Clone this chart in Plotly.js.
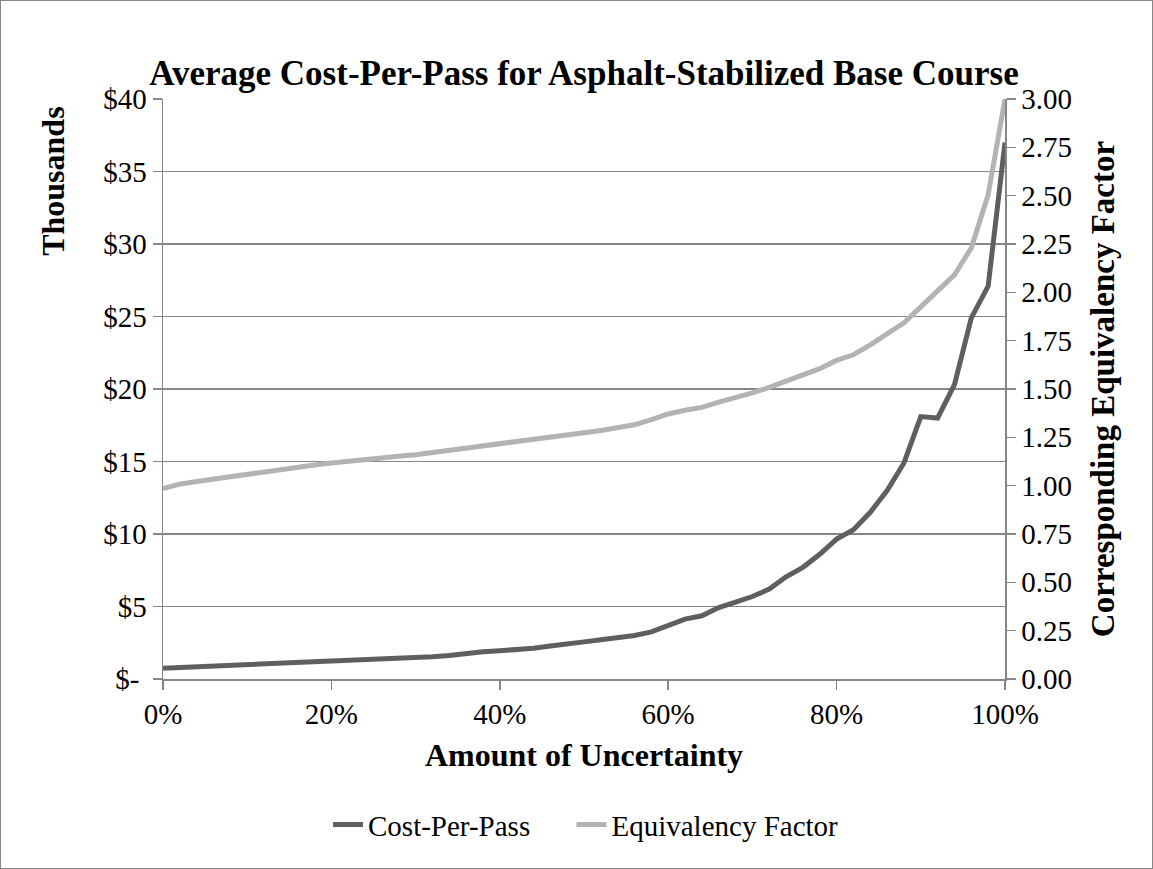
<!DOCTYPE html>
<html>
<head>
<meta charset="utf-8">
<script src="https://cdn.plot.ly/plotly-3.0.1.min.js"></script>
<style>
  html, body { margin: 0; padding: 0; background: #fff; }
  #chart { width: 1151px; height: 867px; border: 1px solid #868686; }
</style>
</head>
<body>
<div id="chart"></div>
<script>
// Amount of uncertainty (x), every 2%
const uncertainty = [0,0.02,0.04,0.06,0.08,0.10,0.12,0.14,0.16,0.18,0.20,0.22,0.24,0.26,0.28,0.30,0.32,0.34,0.36,0.38,0.40,0.42,0.44,0.46,0.48,0.50,0.52,0.54,0.56,0.58,0.60,0.62,0.64,0.66,0.68,0.70,0.72,0.74,0.76,0.78,0.80,0.82,0.84,0.86,0.88,0.90,0.92,0.94,0.96,0.98,1.00];

// Cost-Per-Pass, thousands of dollars
const costPerPass = [0.75,0.80,0.85,0.89,0.93,0.97,1.02,1.06,1.10,1.14,1.19,1.23,1.28,1.40,1.44,1.49,1.54,1.62,1.79,1.88,1.95,2.03,2.12,2.28,2.38,2.56,2.70,2.83,3.00,3.25,3.72,4.13,4.36,4.93,5.30,5.69,6.20,7.05,7.70,8.60,9.65,10.30,11.50,13.00,14.90,18.10,18.00,20.30,24.90,27.10,37.00];

// Equivalency Factor (right axis)
const equivFactor = [0.985,1.008,1.022,1.035,1.048,1.058,1.073,1.085,1.096,1.107,1.117,1.127,1.138,1.145,1.152,1.160,1.172,1.182,1.192,1.204,1.214,1.228,1.238,1.252,1.262,1.274,1.285,1.298,1.315,1.342,1.371,1.390,1.405,1.432,1.455,1.480,1.508,1.540,1.570,1.605,1.648,1.677,1.728,1.782,1.842,1.925,2.012,2.090,2.230,2.505,3.000];

const leftTickVals = [0,5,10,15,20,25,30,35,40];
const leftTickText = ["$-\u00a0","$5","$10","$15","$20","$25","$30","$35","$40"];

const FONT = "Liberation Serif, Times New Roman, serif";
const GRID = "#868686";

const traces = [
  {
    x: uncertainty, y: costPerPass, name: "Cost-Per-Pass\u00a0\u00a0\u00a0\u00a0\u00a0",
    type: "scatter", mode: "lines",
    line: {color: "#5f5f5f", width: 5}, yaxis: "y"
  },
  {
    x: uncertainty, y: equivFactor, name: "Equivalency Factor",
    type: "scatter", mode: "lines",
    line: {color: "#b3b3b3", width: 5}, yaxis: "y2"
  }
];

const layout = {
  width: 1151, height: 867,
  paper_bgcolor: "#fff", plot_bgcolor: "#fff",
  margin: {l: 162, r: 147, t: 98, b: 189, pad: 0},
  font: {family: FONT, color: "#000", size: 29},
  showlegend: true,
  title: {
    text: "<b>Average Cost-Per-Pass for Asphalt-Stabilized Base Course</b>",
    font: {family: FONT, size: 35, color: "#000"},
    x: 0.5, xref: "paper", xanchor: "center",
    y: 0.917, yref: "container", yanchor: "middle"
  },
  xaxis: {
    range: [0, 1], tickvals: [0,0.2,0.4,0.6,0.8,1.0], tickformat: ".0%",
    showgrid: false, zeroline: false,
    showline: true, linecolor: GRID, linewidth: 1.5,
    ticks: "outside", ticklen: 9, tickcolor: GRID, tickwidth: 1.5,
    tickfont: {family: FONT, size: 29, color: "#000"},
    title: {text: "<b>Amount of Uncertainty</b>", font: {family: FONT, size: 32, color: "#000"}, standoff: 14}
  },
  yaxis: {
    range: [0, 40], tickvals: leftTickVals, ticktext: leftTickText,
    showgrid: true, gridcolor: GRID, gridwidth: 1.5,
    zeroline: false,
    showline: true, linecolor: GRID, linewidth: 1.5,
    ticks: "outside", ticklen: 9, tickcolor: GRID, tickwidth: 1.5,
    tickfont: {family: FONT, size: 29, color: "#000"}
  },
  yaxis2: {
    overlaying: "y", side: "right", anchor: "x",
    range: [0, 3], dtick: 0.25, tick0: 0, tickformat: ".2f",
    showgrid: false, zeroline: false,
    showline: true, linecolor: GRID, linewidth: 1.5,
    ticks: "outside", ticklen: 9, tickcolor: GRID, tickwidth: 1.5,
    tickfont: {family: FONT, size: 29, color: "#000"},
    title: {text: "<b>Corresponding Equivalency Factor</b>", font: {family: FONT, size: 33, color: "#000"}, standoff: 20}
  },
  legend: {
    orientation: "h", x: 0.196, xanchor: "left", xref: "paper",
    y: 0.05, yref: "container", yanchor: "middle",
    font: {family: FONT, size: 29, color: "#000"},
    tracegroupgap: 0, bgcolor: "rgba(0,0,0,0)"
  },
  annotations: [{
    text: "<b>Thousands</b>", textangle: -90,
    xref: "paper", yref: "paper", x: -0.13, y: 0.99,
    xanchor: "center", yanchor: "top", showarrow: false,
    font: {family: FONT, size: 32, color: "#000"}
  }]
};

Plotly.newPlot("chart", traces, layout, {displayModeBar: false, staticPlot: true});
</script>
</body>
</html>
